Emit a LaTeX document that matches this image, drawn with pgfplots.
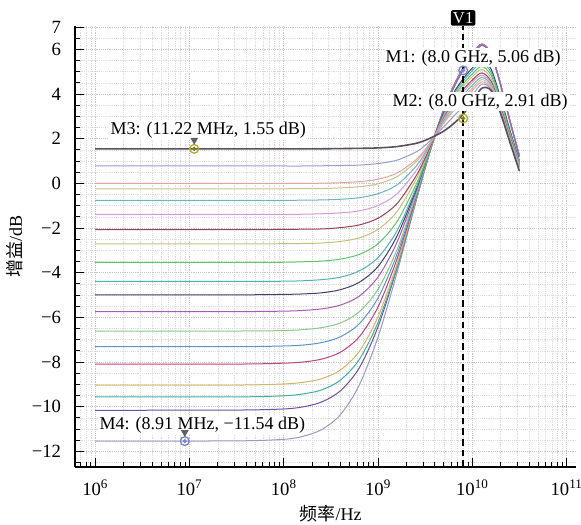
\documentclass[border=0pt]{standalone}
\usepackage{fontspec}
\setmainfont{Liberation Serif}
\newfontfamily\cjk{Noto Sans CJK SC}
\usepackage{pgfplots}
\usepackage{pgfplotstable}
\pgfplotsset{compat=1.18}

\definecolor{k1}{HTML}{5B5060}
\definecolor{k2}{HTML}{9B9BD0}
\definecolor{k3}{HTML}{E3A3A3}
\definecolor{k4}{HTML}{C9C28F}
\definecolor{k5}{HTML}{6AB4C4}
\definecolor{k6}{HTML}{D49AD8}
\definecolor{k7}{HTML}{9E3F55}
\definecolor{k8}{HTML}{C4C07E}
\definecolor{k9}{HTML}{63C46A}
\definecolor{k10}{HTML}{4FB3B0}
\definecolor{k11}{HTML}{3F3F6E}
\definecolor{k12}{HTML}{A65BB8}
\definecolor{k13}{HTML}{88C98A}
\definecolor{k14}{HTML}{5A96C8}
\definecolor{k15}{HTML}{C2407F}
\definecolor{k16}{HTML}{D4B466}
\definecolor{k17}{HTML}{3FB0A0}
\definecolor{k18}{HTML}{6E4FA0}
\definecolor{k19}{HTML}{9A98C0}
\definecolor{mkY}{HTML}{B5AE2A}
\definecolor{mkB}{HTML}{7A86CC}

\pgfplotstableread{
f c1 c2 c3 c4 c5 c6 c7 c8 c9 c10 c11 c12 c13 c14 c15 c16 c17 c18 c19
1e6 1.55 0.78 0.00 -0.24 -0.76 -1.39 -2.07 -2.71 -3.54 -4.39 -4.99 -5.74 -6.61 -7.31 -8.09 -9.03 -9.56 -10.16 -11.54
3.162e7 1.55 0.78 0.00 -0.24 -0.76 -1.39 -2.07 -2.71 -3.54 -4.39 -4.99 -5.74 -6.61 -7.31 -8.09 -9.03 -9.56 -10.15 -11.53
1e8 1.55 0.78 0.00 -0.24 -0.76 -1.39 -2.06 -2.70 -3.53 -4.38 -4.97 -5.72 -6.59 -7.28 -8.05 -8.98 -9.51 -10.10 -11.46
1.585e8 1.55 0.78 0.00 -0.23 -0.75 -1.38 -2.05 -2.69 -3.51 -4.36 -4.95 -5.69 -6.55 -7.24 -8.00 -8.91 -9.43 -10.01 -11.33
2.512e8 1.55 0.79 0.01 -0.23 -0.74 -1.36 -2.04 -2.67 -3.48 -4.31 -4.90 -5.62 -6.46 -7.13 -7.87 -8.75 -9.25 -9.79 -11.03
3.981e8 1.56 0.80 0.03 -0.20 -0.71 -1.32 -1.98 -2.60 -3.39 -4.20 -4.76 -5.45 -6.25 -6.87 -7.56 -8.36 -8.81 -9.29 -10.36
6.310e8 1.57 0.82 0.08 -0.15 -0.64 -1.23 -1.86 -2.44 -3.18 -3.92 -4.43 -5.05 -5.75 -6.29 -6.87 -7.53 -7.89 -8.27 -9.04
1e9 1.59 0.89 0.19 -0.02 -0.46 -0.99 -1.56 -2.06 -2.70 -3.32 -3.72 -4.19 -4.74 -5.13 -5.53 -5.97 -6.22 -6.42 -6.88
1.585e9 1.65 1.04 0.46 0.30 -0.07 -0.47 -0.91 -1.27 -1.72 -2.13 -2.37 -2.65 -2.98 -3.19 -3.40 -3.62 -3.76 -3.81 -4.02
2.512e9 1.79 1.40 1.05 0.95 0.75 0.54 0.31 0.15 -0.08 -0.24 -0.32 -0.41 -0.55 -0.62 -0.69 -0.75 -0.82 -0.81 -0.85
3.162e9 1.93 1.70 1.52 1.47 1.37 1.27 1.14 1.08 0.96 0.90 0.88 0.86 0.78 0.77 0.73 0.72 0.67 0.70 0.70
3.981e9 2.12 2.12 2.12 2.12 2.12 2.12 2.09 2.11 2.08 2.08 2.11 2.13 2.09 2.09 2.08 2.11 2.08 2.12 2.14
5.012e9 2.35 2.55 2.71 2.76 2.83 2.91 2.95 3.02 3.05 3.12 3.17 3.28 3.27 3.29 3.30 3.32 3.30 3.34 3.37
6.310e9 2.67 3.00 3.25 3.33 3.45 3.58 3.67 3.78 3.86 3.96 4.04 4.26 4.26 4.28 4.30 4.33 4.32 4.35 4.38
7.943e9 3.08 3.43 3.70 3.80 3.95 4.08 4.19 4.33 4.44 4.56 4.67 5.05 5.06 5.08 5.10 5.12 5.12 5.15 5.17
1e10 3.65 3.95 4.16 4.27 4.39 4.53 4.63 4.78 4.91 5.05 5.17 5.71 5.72 5.74 5.75 5.77 5.77 5.79 5.81
1.259e10 4.26 4.44 4.55 4.65 4.75 4.85 4.95 5.10 5.24 5.39 5.53 6.18 6.18 6.20 6.21 6.22 6.22 6.24 6.25
1.585e10 4.16 4.22 4.26 4.33 4.41 4.48 4.57 4.70 4.84 4.97 5.11 5.78 5.78 5.79 5.80 5.81 5.81 5.82 5.83
1.995e10 3.14 3.19 3.19 3.25 3.30 3.35 3.42 3.51 3.64 3.73 3.85 4.41 4.42 4.42 4.42 4.43 4.43 4.44 4.45
2.512e10 1.83 1.91 1.91 1.96 1.99 2.03 2.09 2.14 2.22 2.29 2.38 2.78 2.78 2.78 2.78 2.79 2.79 2.79 2.80
3.162e10 0.55 0.71 0.74 0.78 0.80 0.83 0.86 0.89 0.93 0.97 1.02 1.21 1.21 1.21 1.22 1.22 1.22 1.23 1.23
}\gaindata

\begin{document}
\begin{tikzpicture}
\path[use as bounding box] (0,0) rectangle (435.75pt,393pt);
\begin{axis}[
  at={(56.25pt,42.75pt)}, anchor=south west,
  scale only axis, width=375.75pt, height=330.75pt,
  xmode=log, log basis x=10,
  xmin=6.1e5, xmax=1.26e11,
  ymin=-12.7, ymax=7.05,
  axis lines*=left,
  axis line style={line width=0.9pt, black},
  tick align=inside,
  xtick={1e6,1e7,1e8,1e9,1e10,1e11},
  xticklabels={10\textsuperscript{6},10\textsuperscript{7},10\textsuperscript{8},10\textsuperscript{9},10\textsuperscript{10},10\textsuperscript{11}},
  minor xtick={7e5,8e5,9e5,2e6,3e6,4e6,5e6,6e6,7e6,8e6,9e6,2e7,3e7,4e7,5e7,6e7,7e7,8e7,9e7,2e8,3e8,4e8,5e8,6e8,7e8,8e8,9e8,2e9,3e9,4e9,5e9,6e9,7e9,8e9,9e9,2e10,3e10,4e10,5e10,6e10,7e10,8e10,9e10},
  ytick={-12,-10,-8,-6,-4,-2,0,2,4,6,7},
  yticklabels={−12,−10,−8,−6,−4,−2,0,2,4,6,7},
  minor ytick={-12.5,-12,...,7},
  grid=both,
  major grid style={densely dotted, gray!45, line width=0.6pt},
  minor grid style={densely dotted, gray!28, line width=0.5pt},
  major tick length=7pt, minor tick length=4pt,
  every tick/.style={black, line width=0.7pt},
  tick label style={font=\fontsize{14}{16}\selectfont},
  xticklabel style={yshift=-6pt},
  yticklabel style={xshift=-7pt},
  xlabel={{\cjk 频率}/Hz},
  ylabel={{\cjk 增益}/dB},
  label style={font=\fontsize{13.5}{16}\selectfont},
  xlabel style={at={(axis description cs:0.51,-0.105)}, anchor=center},
  ylabel style={at={(axis description cs:-0.12,0.5)}, anchor=center},
  clip=false,
  every axis plot/.append style={smooth, line width=0.75pt},
]
\addplot[k19] table[x=f,y=c19]{\gaindata};
\addplot[k18] table[x=f,y=c18]{\gaindata};
\addplot[k17] table[x=f,y=c17]{\gaindata};
\addplot[k16] table[x=f,y=c16]{\gaindata};
\addplot[k15] table[x=f,y=c15]{\gaindata};
\addplot[k14] table[x=f,y=c14]{\gaindata};
\addplot[k13] table[x=f,y=c13]{\gaindata};
\addplot[k12] table[x=f,y=c12]{\gaindata};
\addplot[k11] table[x=f,y=c11]{\gaindata};
\addplot[k10] table[x=f,y=c10]{\gaindata};
\addplot[k9] table[x=f,y=c9]{\gaindata};
\addplot[k8] table[x=f,y=c8]{\gaindata};
\addplot[k7] table[x=f,y=c7]{\gaindata};
\addplot[k6] table[x=f,y=c6]{\gaindata};
\addplot[k5] table[x=f,y=c5]{\gaindata};
\addplot[k4] table[x=f,y=c4]{\gaindata};
\addplot[k3] table[x=f,y=c3]{\gaindata};
\addplot[k2] table[x=f,y=c2]{\gaindata};
\addplot[k1, line width=1.2pt] table[x=f,y=c1]{\gaindata};

% V1 marker line
\addplot[black, line width=1.3pt, dash pattern=on 5pt off 3pt, sharp plot] coordinates {(8e9,-12.7) (8e9,7.05)};
\node[fill=black, text=white, rounded corners=1.5pt, inner sep=1.6pt, anchor=south, font=\fontsize{12.5}{14}\selectfont] at (axis cs:8e9,7.05) {V1};

% markers
\addplot[only marks, mark=o, mark size=3.3pt, mkB, line width=1pt] coordinates {(8.91e6,-11.54) (8e9,5.06)};
\addplot[only marks, mark=*, mark size=1.2pt, mkB] coordinates {(8.91e6,-11.54) (8e9,5.06)};
\addplot[only marks, mark=o, mark size=3.3pt, mkY, line width=1pt] coordinates {(1.122e7,1.55) (8e9,2.91)};
\addplot[only marks, mark=*, mark size=1.2pt, mkY!70!black] coordinates {(1.122e7,1.55) (8e9,2.91)};
\addplot[only marks, mark=triangle*, mark size=2.6pt, gray!75!black, mark options={rotate=180, yshift=-6.5pt}] coordinates {(8.91e6,-11.54) (1.122e7,1.55)};

% marker labels
\node[fill=white, inner sep=1pt, anchor=west, font=\fontsize{13.5}{15}\selectfont] at (axis cs:1.156e9,5.62) {M1: (8.0 GHz, 5.06 dB)};
\node[fill=white, inner sep=1pt, anchor=west, font=\fontsize{13.5}{15}\selectfont] at (axis cs:1.377e9,3.65) {M2: (8.0 GHz, 2.91 dB)};
\node[fill=white, inner sep=1pt, anchor=west, font=\fontsize{13.5}{15}\selectfont] at (axis cs:1.40e6,2.39) {M3: (11.22 MHz, 1.55 dB)};
\node[fill=white, inner sep=1pt, anchor=west, font=\fontsize{13.5}{15}\selectfont] at (axis cs:1.07e6,-10.81) {M4: (8.91 MHz, −11.54 dB)};
\end{axis}
\end{tikzpicture}
\end{document}
